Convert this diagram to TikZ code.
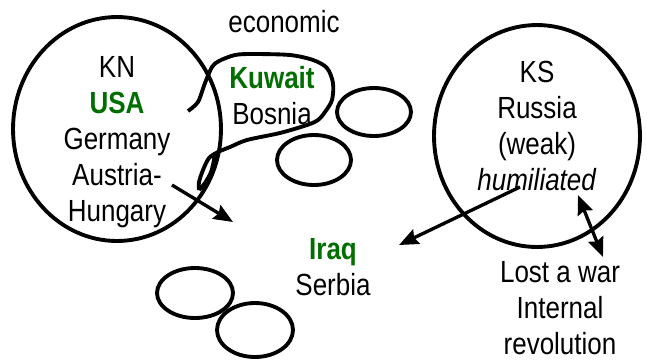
\documentclass[tikz,border=0pt]{standalone}
\usepackage{fontspec}
\setmainfont[FakeStretch=0.85]{Liberation Sans}
\usepackage{tikz}
\usetikzlibrary{arrows.meta}
\definecolor{hotgreen}{RGB}{0,110,0}
\newcommand{\hot}[1]{\textcolor{hotgreen}{\bfseries #1}}

\begin{document}
\begin{tikzpicture}[x=0.02cm, y=-0.02cm, >={Stealth[length=11pt, width=9pt, inset=1.5pt]},
    ring/.style={line width=2.2pt},
    label/.style={align=center, font=\fontsize{17.4}{20.5}\selectfont, inner sep=0pt},
    push/.style={->, line width=1.9pt}]
    \useasboundingbox (0,0) rectangle (647,360);
    % the two camps
    \draw[ring] (117,129) ellipse [x radius=2.08cm, y radius=2.24cm];
    \draw[ring] (537,136) ellipse [x radius=2.06cm, y radius=2.22cm];
    \node[label] (kn) at (117,142) {KN\\ \hot{USA}\\ Germany\\ Austria-\\ Hungary};
    \node[label] (ks) at (537,126) {KS\\ Russia\\ (weak)\\ \textit{humiliated}};
    % economic sphere
    \node[label] (econ) at (284,22) {economic};
    \draw[ring, line join=round] plot[smooth, tension=0.5] coordinates {
        (188,111) (198,102) (205,83) (212,67) (219,61) (235,55) (253,54) (290,55)
        (313,60) (327,68) (333,83) (332,100) (325,112) (318,120) (307,125) (280,133)
        (247,140) (230,147) (218,152) (209,158) (203,170) (199,182) (199,190)}
        plot[smooth, tension=0.5] coordinates {(199,190) (205,183) (211,172) (214,160) (215,153)};
    \node[label] (kuwait) at (272,96) {\hot{Kuwait}\\ Bosnia};
    % small states
    \draw[ring] (374,112) ellipse [x radius=0.74cm, y radius=0.48cm];
    \draw[ring] (314,160) ellipse [x radius=0.74cm, y radius=0.5cm];
    \draw[ring] (195,293) ellipse [x radius=0.76cm, y radius=0.5cm];
    \draw[ring] (255,330) ellipse [x radius=0.76cm, y radius=0.54cm];
    % target
    \node[label] (iraq) at (333,267) {\hot{Iraq}\\ Serbia};
    \node[label] (lost) at (560,308) {Lost a war\\ Internal\\ revolution};
    % pushes
    \coordinate (kn-out) at (172,185);
    \coordinate (kn-in) at (233,222);
    \coordinate (ks-out) at (520,187);
    \coordinate (ks-in) at (399,245);
    \coordinate (ks-low) at (578,195);
    \coordinate (lost-top) at (603,257);
    \draw[push] (kn-out) -- (kn-in);
    \draw[push] (ks-out) -- (ks-in);
    \draw[push, <->] (ks-low) -- (lost-top);
\end{tikzpicture}
\end{document}
